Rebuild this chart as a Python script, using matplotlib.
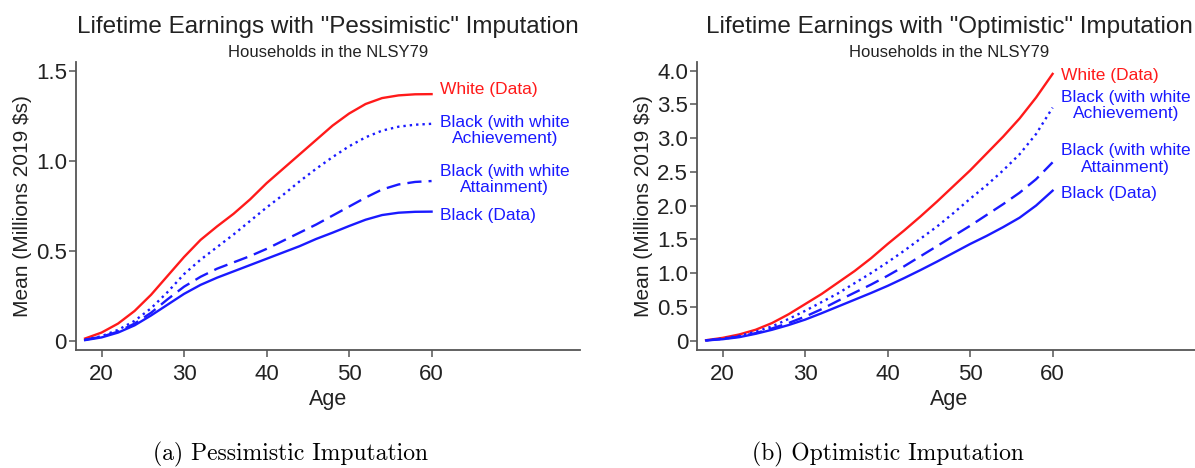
import matplotlib
matplotlib.use("Agg")
import matplotlib.pyplot as plt

plt.rcParams['font.family'] = ['Liberation Sans', 'DejaVu Sans']

ages = [18, 20, 22, 24, 26, 28, 30, 32, 34, 36, 38, 40, 42, 44, 46, 48, 50, 52, 54, 56, 58, 60]

# pessimistic imputation (millions 2019 $)
pess_white = [0.012, 0.045, 0.095, 0.165, 0.255, 0.36, 0.465, 0.56, 0.635, 0.705, 0.785, 0.875,
              0.955, 1.035, 1.115, 1.195, 1.262, 1.315, 1.348, 1.363, 1.369, 1.37]
pess_achieve = [0.005, 0.025, 0.06, 0.11, 0.18, 0.27, 0.37, 0.45, 0.52, 0.59, 0.665, 0.74,
                0.81, 0.885, 0.955, 1.02, 1.08, 1.13, 1.167, 1.189, 1.20, 1.205]
pess_attain = [0.005, 0.022, 0.05, 0.095, 0.155, 0.23, 0.30, 0.355, 0.40, 0.435, 0.47, 0.51,
               0.555, 0.60, 0.645, 0.695, 0.745, 0.795, 0.84, 0.868, 0.882, 0.887]
pess_black = [0.003, 0.018, 0.045, 0.085, 0.14, 0.20, 0.26, 0.31, 0.35, 0.385, 0.42, 0.455,
              0.49, 0.525, 0.565, 0.60, 0.637, 0.672, 0.698, 0.711, 0.716, 0.717]

# optimistic imputation
opt_white = [0.005, 0.04, 0.09, 0.16, 0.26, 0.39, 0.54, 0.69, 0.86, 1.03, 1.22, 1.43,
             1.63, 1.84, 2.06, 2.29, 2.52, 2.77, 3.02, 3.29, 3.60, 3.95]
opt_achieve = [0.004, 0.03, 0.07, 0.13, 0.21, 0.32, 0.44, 0.57, 0.70, 0.85, 1.00, 1.16,
               1.33, 1.51, 1.69, 1.89, 2.10, 2.30, 2.52, 2.76, 3.06, 3.45]
opt_attain = [0.003, 0.025, 0.06, 0.11, 0.18, 0.26, 0.355, 0.465, 0.59, 0.71, 0.83, 0.96,
              1.10, 1.25, 1.40, 1.55, 1.70, 1.86, 2.02, 2.19, 2.39, 2.64]
opt_black = [0.002, 0.02, 0.05, 0.10, 0.16, 0.23, 0.31, 0.405, 0.505, 0.605, 0.705, 0.81,
             0.925, 1.045, 1.17, 1.30, 1.43, 1.55, 1.68, 1.82, 2.00, 2.22]

series_labels = ["White (Data)", "Black (with white\nAchievement)",
                 "Black (with white\nAttainment)", "Black (Data)"]
xticks = [20, 30, 40, 50, 60]
pess_yticks = [0, 0.5, 1.0, 1.5]
pess_yticklabels = ["0", "0.5", "1.0", "1.5"]
opt_yticks = [0, 0.5, 1.0, 1.5, 2.0, 2.5, 3.0, 3.5, 4.0]
opt_yticklabels = ["0", "0.5", "1.0", "1.5", "2.0", "2.5", "3.0", "3.5", "4.0"]

RED = '#ff1a1a'
BLUE = '#1a1aff'
GRAY = '#555555'
TXT = '#222222'
styles = [dict(color=RED, ls='-'),
          dict(color=BLUE, ls=(0, (1, 1.7))),
          dict(color=BLUE, ls=(0, (6, 3))),
          dict(color=BLUE, ls='-')]


def panel(ax, series, yticks, yticklabels, ylim, title, nudges):
    for ys, st, lab, dy in zip(series, styles, series_labels, nudges):
        ax.plot(ages, ys, lw=1.7, **st)
        ax.annotate(lab, xy=(ages[-1], ys[-1]), xytext=(6, dy), textcoords='offset points',
                    ha='left', va='center', multialignment='center', color=st['color'],
                    fontsize=12.5, linespacing=1.12)
    ax.set_xlim(16.9, 78)
    ax.set_ylim(*ylim)
    ax.set_xticks(xticks)
    ax.set_yticks(yticks)
    ax.set_yticklabels(yticklabels)
    for s in ['top', 'right']:
        ax.spines[s].set_visible(False)
    for s in ['left', 'bottom']:
        ax.spines[s].set_color(GRAY)
        ax.spines[s].set_linewidth(1.3)
    ax.tick_params(axis='both', direction='out', length=5, width=1.1, color=GRAY,
                   labelsize=16, labelcolor=TXT)
    ax.tick_params(axis='y', pad=1.5)
    ax.tick_params(axis='x', pad=5)
    ax.set_xlabel("Age", fontsize=15.5, color=TXT, labelpad=3)
    ax.set_ylabel("Mean (Millions 2019 $s)", fontsize=15, color=TXT, labelpad=3)
    ax.text(0.5, 1.0 + 28.7 / 288, title, transform=ax.transAxes, ha='center', va='baseline',
            fontsize=17.5, color=TXT)
    ax.text(0.5, 1.0 + 4.7 / 288, "Households in the NLSY79", transform=ax.transAxes,
            ha='center', va='baseline', fontsize=12, color=TXT)


fig = plt.figure(figsize=(11.95, 4.68), dpi=100)
ax1 = fig.add_axes([0.0636, 0.2521, 0.4218, 0.616])
ax2 = fig.add_axes([0.5833, 0.2521, 0.4218, 0.616])

panel(ax1, [pess_white, pess_achieve, pess_attain, pess_black], pess_yticks, pess_yticklabels,
      (-0.052, 1.55), 'Lifetime Earnings with "Pessimistic" Imputation', [3, -5, 1, -3])
panel(ax2, [opt_white, opt_achieve, opt_attain, opt_black], opt_yticks, opt_yticklabels,
      (-0.14, 4.13), 'Lifetime Earnings with "Optimistic" Imputation', [-1, 1.5, 2.5, -2])

fig.text(0.243, 0.028, "(a) Pessimistic Imputation", ha='center', va='center',
         family='cmr10', fontsize=17)
fig.text(0.743, 0.028, "(b) Optimistic Imputation", ha='center', va='center',
         family='cmr10', fontsize=17)

fig.savefig("out.png", dpi=100)
